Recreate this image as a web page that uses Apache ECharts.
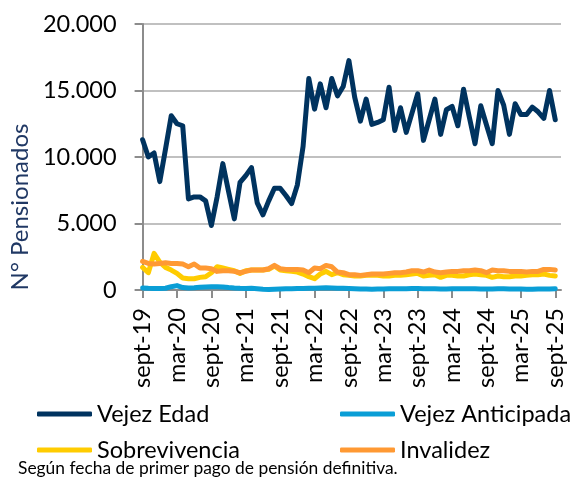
<!DOCTYPE html>
<html>
<head>
<meta charset="utf-8">
<script src="https://cdn.jsdelivr.net/npm/echarts@6/dist/echarts.min.js"></script>
<style>
  html, body { margin: 0; padding: 0; background: #fff; }
  #container { width: 581px; height: 479px; }
</style>
</head>
<body>
<div id="container"></div>
<script>
// meses, sept-19 a sept-25 (el ultimo vacio solo da aire a la derecha)
var meses = [
    'sept-19', 'oct-19', 'nov-19', 'dic-19',
    'ene-20', 'feb-20', 'mar-20', 'abr-20', 'may-20', 'jun-20', 'jul-20', 'ago-20', 'sept-20', 'oct-20', 'nov-20', 'dic-20',
    'ene-21', 'feb-21', 'mar-21', 'abr-21', 'may-21', 'jun-21', 'jul-21', 'ago-21', 'sept-21', 'oct-21', 'nov-21', 'dic-21',
    'ene-22', 'feb-22', 'mar-22', 'abr-22', 'may-22', 'jun-22', 'jul-22', 'ago-22', 'sept-22', 'oct-22', 'nov-22', 'dic-22',
    'ene-23', 'feb-23', 'mar-23', 'abr-23', 'may-23', 'jun-23', 'jul-23', 'ago-23', 'sept-23', 'oct-23', 'nov-23', 'dic-23',
    'ene-24', 'feb-24', 'mar-24', 'abr-24', 'may-24', 'jun-24', 'jul-24', 'ago-24', 'sept-24', 'oct-24', 'nov-24', 'dic-24',
    'ene-25', 'feb-25', 'mar-25', 'abr-25', 'may-25', 'jun-25', 'jul-25', 'ago-25', 'sept-25',
    ''
];

var vejezEdad = [
    11300, 10000, 10300, 8150,
    10600, 13100, 12500, 12350, 6850, 7000, 7000, 6700, 4850, 7000, 9500, 7400,
    5350, 8100, 8600, 9200, 6550, 5650, 6700, 7650, 7650, 7100, 6500, 7900,
    10800, 15900, 13600, 15500, 13700, 15900, 14600, 15300, 17250, 14500, 12700, 14350,
    12450, 12600, 12800, 15250, 12000, 13700, 11850, 13300, 14750, 11250, 12800, 14350,
    11700, 13550, 13800, 12350, 15100, 13000, 11000, 13850, 12400, 11000, 15000, 13900,
    11700, 14000, 13200, 13200, 13750, 13400, 12900, 15000, 12800
];

var vejezAnticipada = [
    150, 130, 120, 120,
    130, 250, 330, 180, 150, 170, 200, 230, 250, 240, 230, 180,
    150, 130, 120, 130, 100, 60, 40, 60, 80, 90, 100, 110,
    120, 130, 140, 150, 160, 150, 140, 130, 120, 100, 80, 70,
    60, 70, 80, 90, 90, 100, 100, 110, 110, 100, 90, 90,
    80, 80, 90, 90, 100, 100, 90, 80, 80, 80, 90, 90,
    80, 70, 70, 60, 60, 70, 80, 80, 90
];

var sobrevivencia = [
    1700, 1300, 2750, 2100,
    1700, 1500, 1250, 900, 850, 850, 950, 1000, 1300, 1750, 1650, 1550,
    1450, 1250, 1450, 1500, 1500, 1500, 1550, 1800, 1500, 1450, 1400, 1350,
    1200, 1000, 850, 1200, 1400, 1150, 1300, 1150, 1100, 1050, 1050, 1100,
    1100, 1100, 1050, 1050, 1100, 1100, 1150, 1200, 1250, 1050, 1100, 1150,
    950, 1100, 1100, 1050, 1050, 1150, 1200, 1150, 1100, 950, 1050, 1000,
    1000, 1050, 1050, 1100, 1150, 1150, 1200, 1100, 1050
];

var invalidez = [
    2150, 2000, 1950, 2000,
    2050, 2000, 2000, 1950, 1750, 1950, 1650, 1650, 1600, 1400, 1450, 1450,
    1400, 1300, 1400, 1500, 1500, 1500, 1600, 1850, 1600, 1550, 1550, 1550,
    1500, 1300, 1650, 1600, 1850, 1750, 1350, 1300, 1150, 1150, 1100, 1150,
    1200, 1200, 1200, 1250, 1300, 1300, 1350, 1450, 1450, 1350, 1500, 1350,
    1300, 1350, 1400, 1400, 1450, 1450, 1500, 1450, 1300, 1500, 1450, 1450,
    1400, 1400, 1400, 1350, 1400, 1400, 1550, 1550, 1500
];

var ticksY = [0, 5000, 10000, 15000, 20000];

function miles(v) {
    return String(v).replace(/\B(?=(\d{3})+(?!\d))/g, '.');
}

var fuente = 'Lato';
var dom = document.getElementById('container');
var myChart = echarts.init(dom, null, { renderer: 'canvas' });

function linea(nombre, datos, color, ancho) {
    return {
        name: nombre,
        type: 'line',
        data: datos,
        symbol: 'none',
        smooth: false,
        lineStyle: { color: color, width: ancho, cap: 'round', join: 'round' },
        itemStyle: { color: color }
    };
}

var leyendaComun = {
    orient: 'vertical',
    icon: 'roundRect',
    itemWidth: 55,
    itemHeight: 5,
    itemGap: 12,
    top: 402,
    padding: 0,
    textStyle: { fontFamily: fuente, fontSize: 23.5, color: '#000', lineHeight: 24 }
};

var option = {
    animation: false,
    backgroundColor: '#fff',
    title: {
        text: 'Según fecha de primer pago de pensión definitiva.',
        left: 18,
        top: 460,
        padding: 0,
        textStyle: { fontFamily: fuente, fontSize: 17.4, fontWeight: 'normal', color: '#000' }
    },
    legend: [
        Object.assign({}, leyendaComun, { left: 37, data: ['Vejez Edad', 'Sobrevivencia'] }),
        Object.assign({}, leyendaComun, { left: 340, data: ['Vejez Anticipada', 'Invalidez'] })
    ],
    grid: { left: 141, top: 24, right: 20, bottom: 189, containLabel: false },
    xAxis: {
        type: 'category',
        data: meses,
        boundaryGap: false,
        axisLine: { lineStyle: { color: '#8c8c8c', width: 2 } },
        axisTick: { show: true, interval: 5, length: 8, lineStyle: { color: '#8c8c8c', width: 2 } },
        axisLabel: {
            interval: 5,
            rotate: 90,
            margin: 18,
            fontFamily: fuente,
            fontSize: 23.5,
            color: '#000'
        },
        splitLine: { show: false }
    },
    yAxis: {
        type: 'value',
        min: ticksY[0],
        max: ticksY[ticksY.length - 1],
        interval: 5000,
        name: 'N° Pensionados',
        nameLocation: 'middle',
        nameGap: 101,
        nameTextStyle: {
            fontFamily: fuente,
            fontSize: 24,
            color: '#203864',
            padding: [0, 100, 0, 0]
        },
        axisLine: { show: true, lineStyle: { color: '#8c8c8c', width: 2 } },
        axisTick: { show: true, length: 8, lineStyle: { color: '#8c8c8c', width: 2 } },
        axisLabel: {
            margin: 26,
            fontFamily: fuente,
            fontSize: 23.5,
            color: '#000',
            formatter: function (v) { return miles(v); }
        },
        splitLine: { show: true, lineStyle: { color: '#c0c0c0', width: 2 } }
    },
    series: [
        linea('Vejez Edad', vejezEdad, '#00335f', 5),
        linea('Vejez Anticipada', vejezAnticipada, '#0a9ed6', 5),
        linea('Sobrevivencia', sobrevivencia, '#ffcc00', 5),
        linea('Invalidez', invalidez, '#ff9933', 5)
    ]
};

if (option && typeof option === 'object') {
    myChart.setOption(option, true);
}
</script>
</body>
</html>
